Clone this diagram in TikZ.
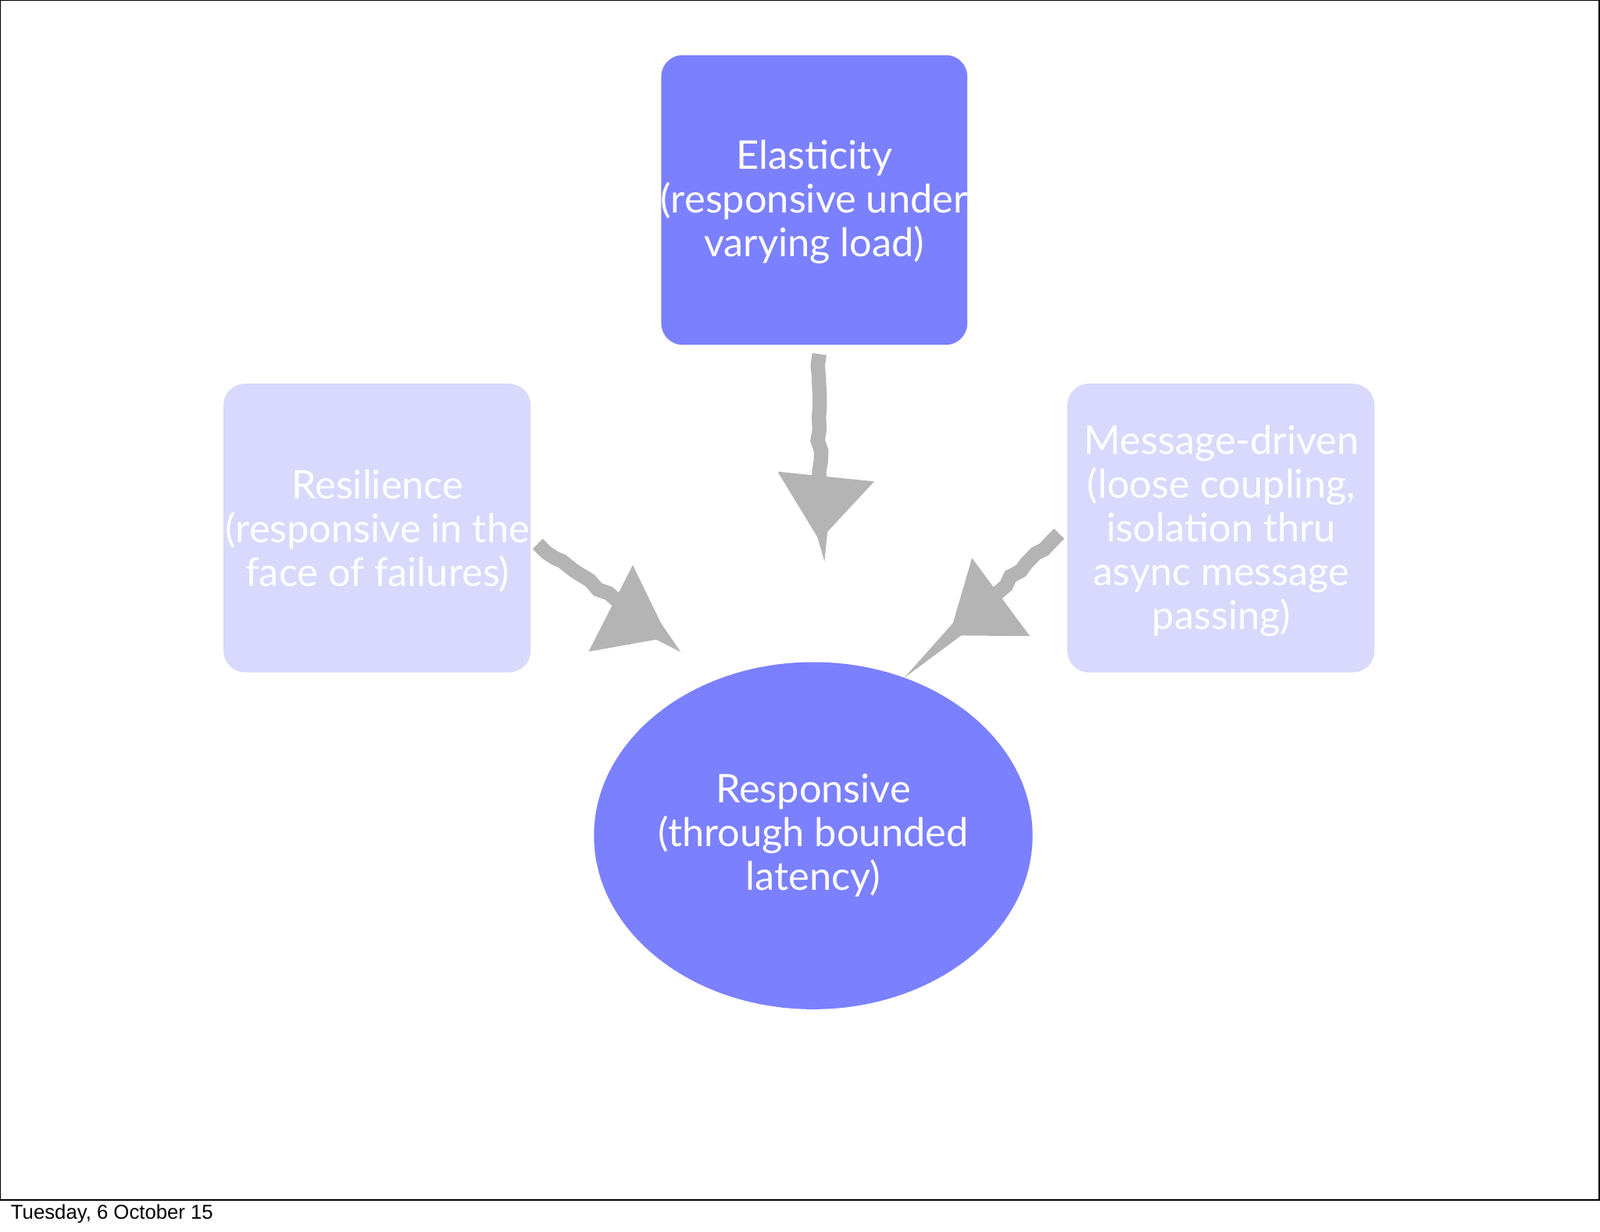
\documentclass[tikz,border=0pt]{standalone}
\usepackage{fontspec}
\setmainfont{Lato}
\newfontfamily\footfont{Liberation Sans}
\usetikzlibrary{arrows.meta,shapes.geometric,decorations.pathmorphing}
\definecolor{strong}{HTML}{7B80FF}
\definecolor{pale}{HTML}{D8D9FC}
\definecolor{arr}{HTML}{B4B4B4}
\begin{document}
\begin{tikzpicture}[x=0.01cm,y=-0.01cm,
  box/.style={inner sep=0pt,text=white,align=center,font=\fontsize{11}{12.2}\selectfont},
  sketch/.style={draw=arr,line width=4pt,-{Triangle[length=18pt,width=26pt]},decorate,decoration={random steps,segment length=3pt,amplitude=0.6pt}}]
\useasboundingbox (0,0) rectangle (1568,1207);
\draw[line width=0.4pt] (0,0) rectangle (1567,1176);
\node[anchor=west,font=\footfont\fontsize{5.6}{6}\selectfont,inner sep=0pt] (foot) at (10,1190) {Tuesday, 6 October 15};
\fill[strong,rounded corners=6pt] (648,54) rectangle (948,338);
\node[box] (ela) at (798,198) {Elasticity\\(responsive under\\varying load)};
\fill[pale,rounded corners=6pt] (219,376) rectangle (520,659);
\node[box] (res) at (370,520) {Resilience\\(responsive in the\\face of failures)};
\fill[pale,rounded corners=6pt] (1046,376) rectangle (1347,659);
\node[box] (msg) at (1197,520) {Message-driven\\(loose coupling,\\isolation thru\\async message\\passing)};
\node[ellipse,fill=strong,inner sep=0pt,minimum width=3.8cm,minimum height=3.4cm,text=white,align=center,font=\fontsize{11}{12.2}\selectfont] (resp) at (797,819) {Responsive\\(through bounded\\latency)};
\coordinate (a1s) at (803,347); \coordinate (a1e) at (803,530);
\coordinate (a2s) at (527,533); \coordinate (a2e) at (655,625);
\coordinate (a3s) at (1038,523); \coordinate (a3e) at (930,623);
\draw[sketch] (a1s) -- (a1e);
\draw[sketch] (a2s) -- (a2e);
\draw[sketch] (a3s) -- (a3e);
\end{tikzpicture}
\end{document}
